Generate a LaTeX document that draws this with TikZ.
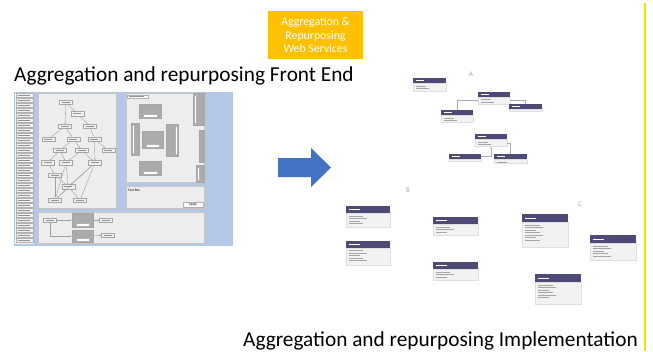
\documentclass[tikz,border=0pt]{standalone}
\usepackage{fontspec}
\setmainfont{Carlito}
\usetikzlibrary{arrows.meta}
\definecolor{orangebox}{HTML}{FFC000}
\definecolor{shotblue}{HTML}{B4C7E7}
\definecolor{panelgray}{HTML}{EDEDED}
\definecolor{arrowblue}{HTML}{4472C4}
\definecolor{umlheadc}{HTML}{4E4A78}
\definecolor{umlbodyc}{HTML}{F2F2F2}
\definecolor{boxgray}{HTML}{ABABAB}
\definecolor{edgeyellow}{HTML}{F2E200}
\tikzset{
  mininode/.style={draw=gray!70,fill=gray!12,minimum width=13pt,minimum height=4.5pt,inner sep=0pt,line width=0.3pt,
    path picture={\draw[gray!85,line width=0.7pt] ([xshift=2.5pt]path picture bounding box.west) -- ([xshift=-2.5pt]path picture bounding box.east);}},
  listnode/.style={draw=gray!60,fill=gray!10,minimum width=17pt,minimum height=4pt,inner sep=0pt,line width=0.3pt,
    path picture={\draw[gray!85,line width=0.6pt] ([xshift=2pt]path picture bounding box.west) -- ([xshift=-3pt]path picture bounding box.east);}},
  panel/.style={draw=gray!45,fill=panelgray,line width=0.3pt},
  graybox/.style={draw=gray!70,fill=boxgray,line width=0.3pt},
  whitetag/.style={draw=gray!60,fill=white,line width=0.3pt},
  edge/.style={draw=gray!75,line width=0.35pt},
  umlh/.style={fill=umlheadc,draw=none,inner sep=0pt},
  umlb/.style={fill=umlbodyc,draw=gray!25,line width=0.3pt,inner sep=0pt},
  umlline/.style={draw=gray!65,line width=0.6pt},
  title/.style={font=\fontsize{21.3}{25}\selectfont,inner sep=0pt,anchor=base west},
  letter/.style={font=\fontsize{7}{8}\selectfont,text=gray!70,inner sep=0pt},
  tinytext/.style={font=\fontsize{3.5}{4}\selectfont,inner sep=0pt},
}
\newcommand{\umlbox}[7]{%
  \node[umlh,minimum width=#4pt,minimum height=#5pt,anchor=north west] (#1) at (#2,#3) {};
  \node[umlb,minimum width=#4pt,minimum height=#6pt,anchor=north west] (#1b) at (#1.south west) {};
  \draw[white,line width=0.8pt] ([shift={(2.5,#5/2)}]#1.north west) -- ++(#4/4,0);
  \ifnum#7>0 \foreach \k in {1,...,#7}{\draw[gray!70,line width=0.6pt] ([shift={(2.5,2.5*\k)}]#1b.north west) -- ++({#4*(0.25+0.08*mod(\k,3))},0);}\fi
}
\begin{document}
\begin{tikzpicture}[x=1pt,y=-1pt]
\useasboundingbox[fill=white] (0,0) rectangle (653,351);

% right yellow line
\draw[edgeyellow,line width=1.4pt] (645,3) -- (645,351);

% orange box
\node[fill=orangebox,minimum width=95pt,minimum height=48pt,text=white,align=center,
  font=\fontsize{11.8}{13.3}\selectfont,inner sep=0pt] (ws) at (315.5,35) {Aggregation \&\\Repurposing\\Web Services};

% titles
\node[title] (t1) at (14,81) {Aggregation and repurposing Front End};
\node[title] (t2) at (243,346) {Aggregation and repurposing Implementation};

% ---------- front end screenshot ----------
\fill[shotblue] (14,92) rectangle (233,246);
\fill[gray!8] (15,93) rectangle (34,244);
\foreach \i in {0,...,29}{\node[listnode] (l\i) at (24.5,95.5+5*\i) {};}

\path[panel] (38,93) rectangle (116,208);
\path[panel] (126,93) rectangle (204,182);
\path[panel] (126,186) rectangle (204,208);
\path[panel] (38,212) rectangle (204,243);

% graph in main panel
\node[mininode] (g1) at (65.7,102.3) {};
\node[mininode] (g2) at (77.3,113.7) {};
\node[mininode] (g3) at (65,126.3) {};
\node[mininode] (g4) at (90,126.3) {};
\node[mininode] (g5) at (48.3,139) {};
\node[mininode] (g6) at (73.3,139) {};
\node[mininode] (g7) at (94.3,139) {};
\node[mininode] (g8) at (60,150.3) {};
\node[mininode] (g9) at (82,150.3) {};
\node[mininode] (g10) at (108.3,150.3) {};
\node[mininode] (g11) at (47.7,162.7) {};
\node[mininode] (g12) at (66,162.7) {};
\node[mininode] (g13) at (95,162.7) {};
\node[mininode] (g14) at (55,175) {};
\node[mininode] (g15) at (68.3,186.7) {};
\node[mininode] (g16) at (55,200) {};
\node[mininode] (g17) at (80,200) {};
\foreach \a/\b in {g1/g3,g1/g2,g2/g4,g3/g6,g4/g7,g3/g5,g6/g8,g6/g9,g7/g10,g7/g13,
  g8/g11,g8/g12,g9/g12,g9/g13,g11/g14,g12/g15,g13/g15,g14/g16,g14/g15,g15/g16,g15/g17,g13/g17,g12/g16,g13/g16}
  {\draw[edge,-{Latex[length=1.2pt,width=1.2pt]}] (\a) -- (\b);}

% right panel
\node[whitetag,minimum width=21pt,minimum height=3.5pt,inner sep=0pt,anchor=north west] (doc) at (127,94.5) {};
\draw[gray!85,line width=0.6pt] ([xshift=2pt]doc.west) -- ([xshift=-4pt]doc.east);
\path[graybox] (139,104) rectangle (161,118);
\path[whitetag] (143,114) rectangle (157,117.5);
\path[graybox] (131,123) rectangle (139,155);
\path[whitetag] (132,125) rectangle (134.5,153);
\path[graybox] (142,131) rectangle (163,148);
\path[whitetag] (146,144) rectangle (159,147.5);
\path[graybox] (166,124) rectangle (178,156);
\path[whitetag] (175,126) rectangle (177.5,154);
\path[graybox] (139,161) rectangle (161,175);
\path[whitetag] (143,171) rectangle (157,174.5);
\path[graybox] (193,93) rectangle (204,125);
\path[whitetag] (194,95) rectangle (196.5,123);
\path[graybox] (199,130) rectangle (204,162);
\path[graybox] (196,165) rectangle (204,182);
\path[whitetag] (197,167) rectangle (199.5,180);

% text box panel
\node[tinytext,anchor=north west] (tb) at (128,189) {Text Box};
\node[whitetag,minimum width=20pt,minimum height=5pt,inner sep=0pt,tinytext] (apply) at (193,204.5) {Apply};

% bottom panel
\node[mininode] (n1) at (50,220) {};
\node[graybox,minimum width=21pt,minimum height=14pt,inner sep=0pt] (bx1) at (82.5,220) {};
\node[graybox,minimum width=21pt,minimum height=12pt,inner sep=0pt] (bx2) at (82.5,236) {};
\path[whitetag] (76,223.5) rectangle (89,226.5);
\path[whitetag] (76,238.5) rectangle (89,241.5);
\node[mininode] (n2) at (106,220) {};
\node[mininode] (n3) at (108,235) {};
\draw[edge,-{Latex[length=1.5pt,width=1.5pt]}] (n1) -- (bx1);
\draw[edge,-{Latex[length=1.5pt,width=1.5pt]}] (n1.south) |- (bx2.west);
\draw[edge,-{Latex[length=1.5pt,width=1.5pt]}] (bx1) -- (n2);
\draw[edge,-{Latex[length=1.5pt,width=1.5pt]}] (bx2) -- (n3);

% ---------- block arrow ----------
\fill[arrowblue] (278,158) -- (311,158) -- (311,148) -- (331,167.5) -- (311,187) -- (311,177) -- (278,177) -- cycle;

% ---------- implementation (UML) ----------
\node[letter] (la) at (471,74) {A};
\node[letter] (lb) at (408,190) {B};
\node[letter] (lc) at (580,204) {C};

\umlbox{a1}{413}{78}{33}{5}{8}{2}
\umlbox{a2}{478}{92}{32}{4.5}{7}{2}
\umlbox{a3}{509}{104}{33}{5}{1.5}{0}
\umlbox{a4}{441}{110}{32}{5}{7}{2}
\umlbox{a5}{475}{134}{32}{5}{7}{2}
\umlbox{a6}{449}{154}{32}{5}{1.5}{0}
\umlbox{a7}{494}{154}{33}{5}{4}{1}
\draw[umlline] (a4.north) |- (a2b.west);
\draw[umlline] (a2b.east) -| (a3.north);
\draw[umlline,-{Latex[length=2pt,width=2pt]}] (a6.east) -| (a5b.south);
\draw[umlline] (a5b.east) -| (a7.north);

\umlbox{b1}{346}{206}{44}{7}{14}{4}
\umlbox{b2}{346}{241}{44}{6.5}{17}{5}
\umlbox{b3}{433}{217}{45}{7}{11}{3}
\umlbox{b4}{433}{262}{45}{7}{11}{3}
\umlbox{c1}{522}{214}{46}{8}{25}{7}
\umlbox{c2}{590}{235}{46}{8}{17}{5}
\umlbox{c3}{535}{274}{46}{8}{22}{6}
\end{tikzpicture}
\end{document}
